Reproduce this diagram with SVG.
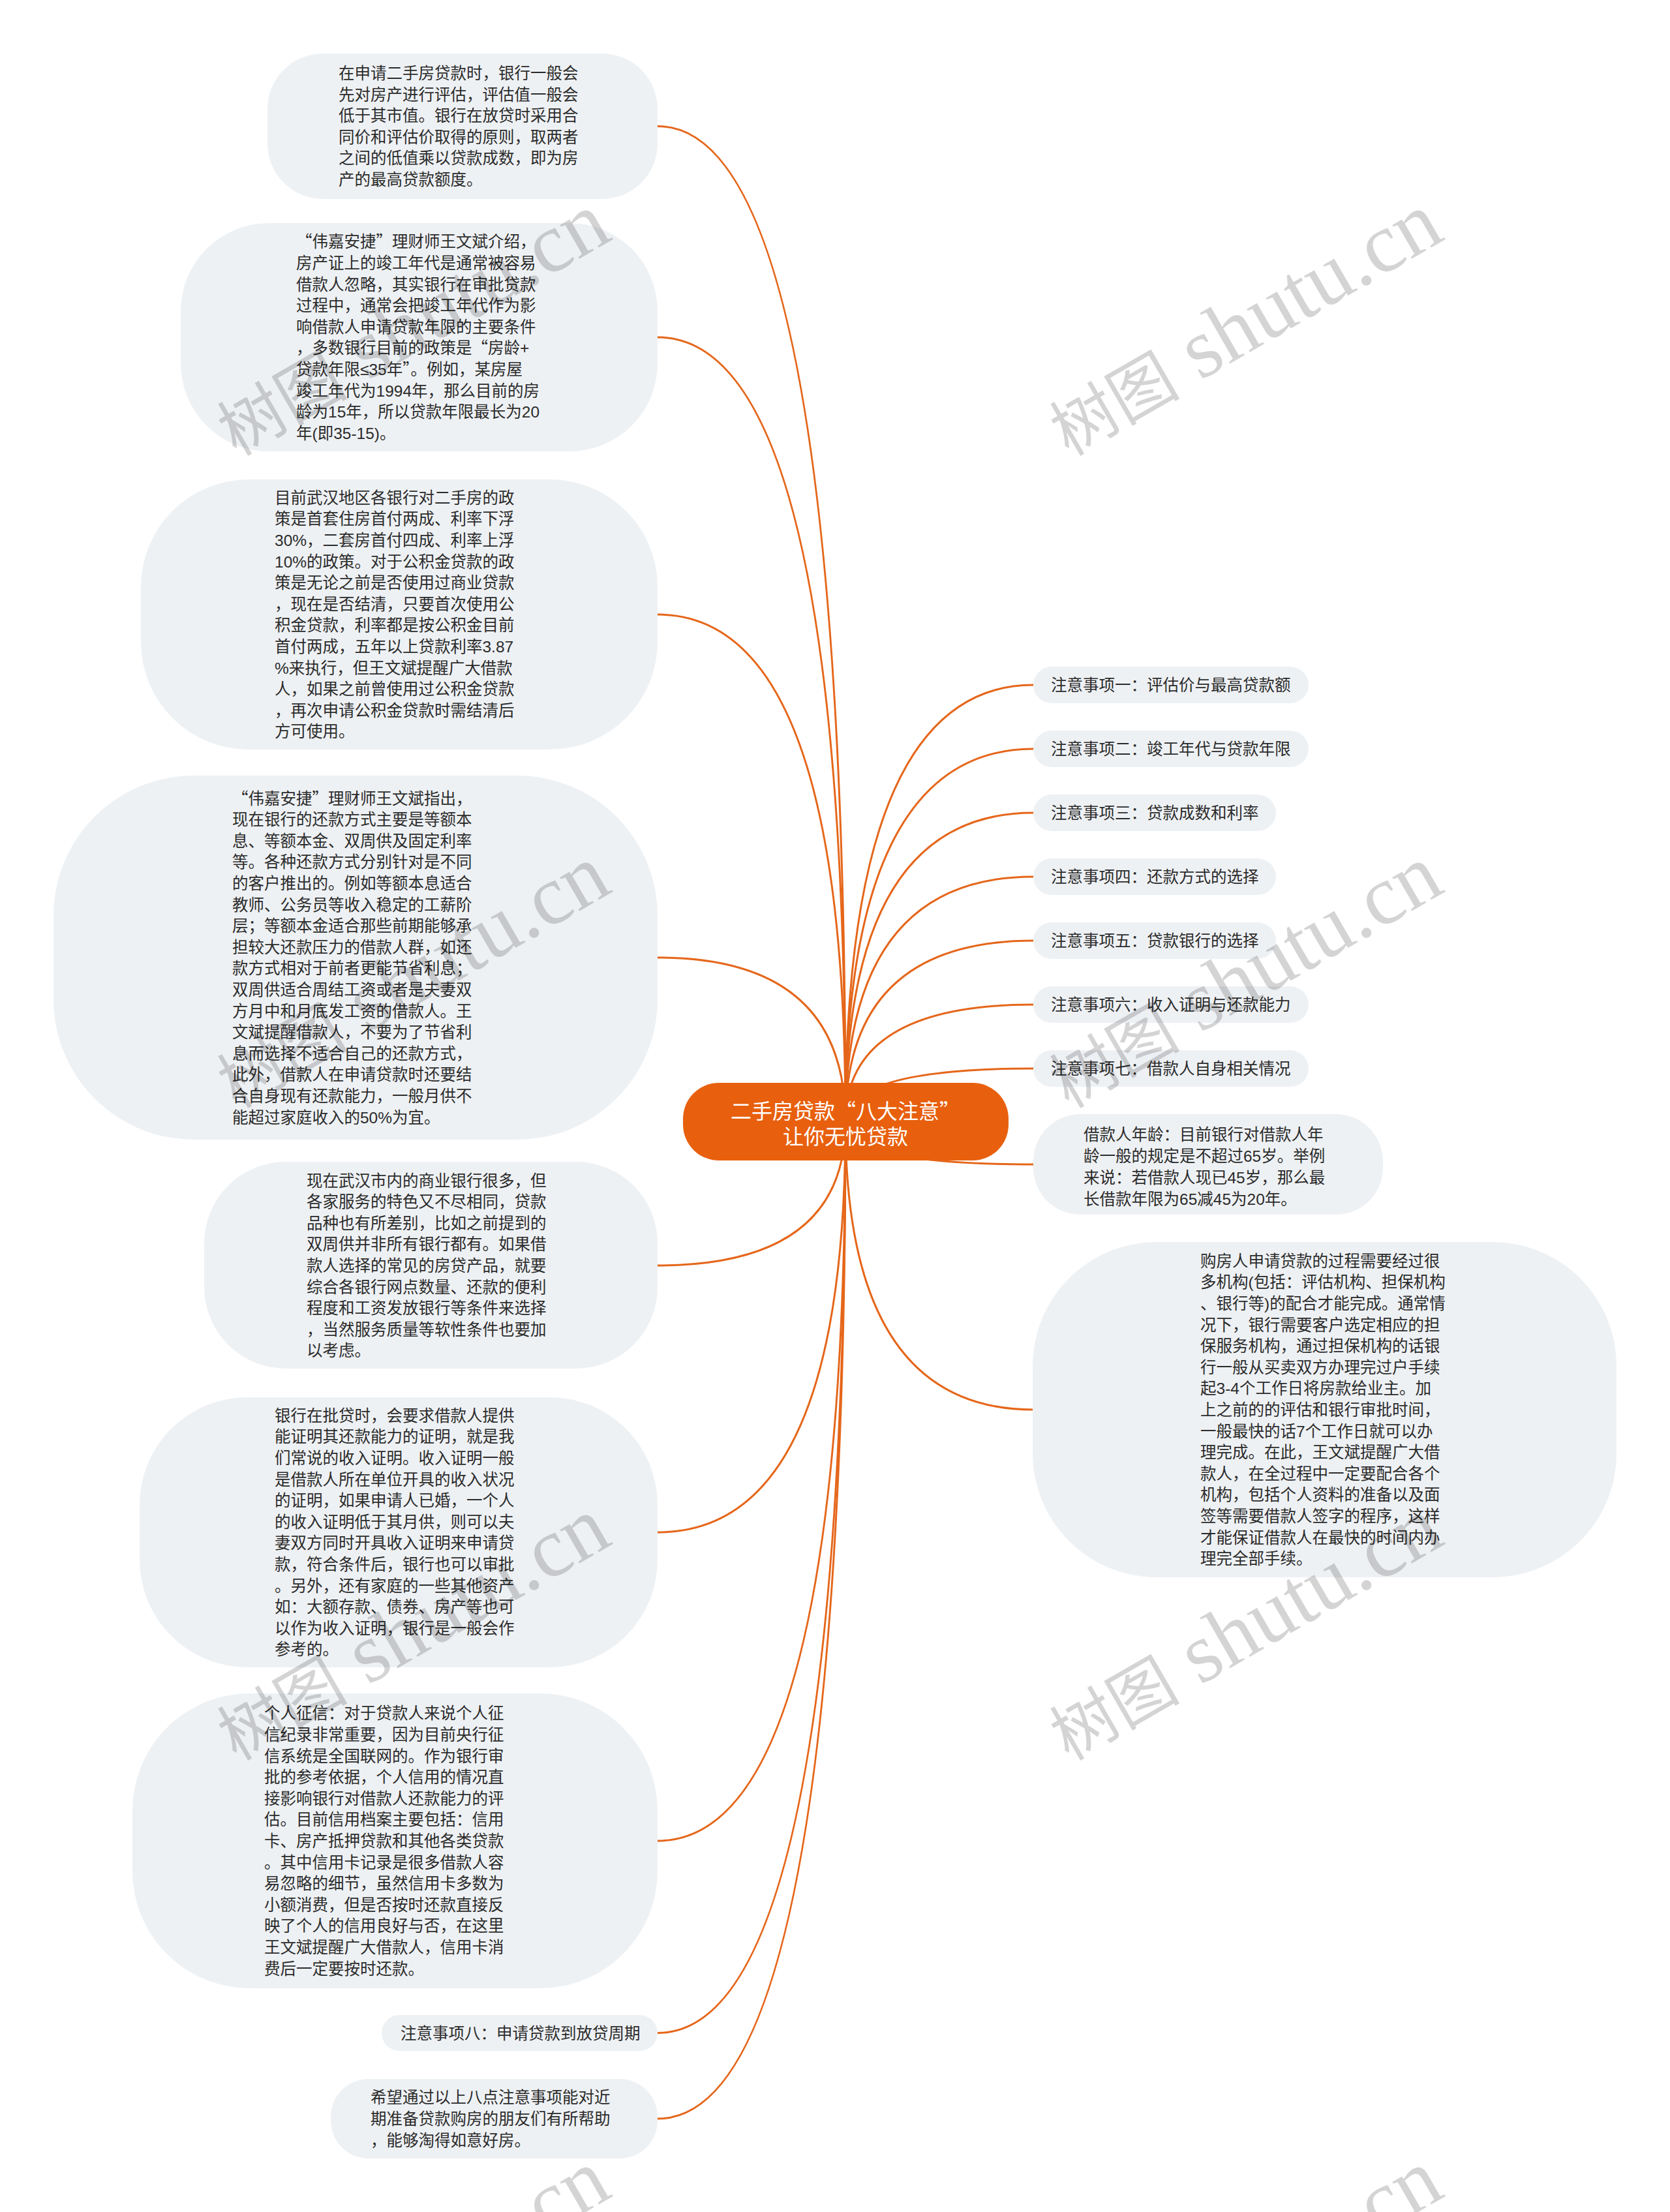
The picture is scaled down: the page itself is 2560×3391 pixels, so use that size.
<svg xmlns="http://www.w3.org/2000/svg" width="2560" height="3391" viewBox="0 0 2560 3391">
<style>
.bg{fill:#ffffff}
.nd{fill:#EEF1F4}
.t{font-family:"Liberation Sans","Noto Sans CJK SC",sans-serif;font-size:24.5px;fill:#2b2b2b}
.ct{font-family:"Liberation Sans","Noto Sans CJK SC",sans-serif;font-size:32px;fill:#ffffff;text-anchor:middle}
.q{font-family:"Noto Sans CJK SC","Noto Sans CJK JP",sans-serif}
.cn{fill:#E8600E}
.lk path{fill:none;stroke:#E5661A;stroke-width:3}
.wm{font-family:"Liberation Serif","Noto Sans CJK SC",serif;font-size:130px;fill:#000000;fill-opacity:0.17;text-anchor:middle}
.wm .k{font-size:100px}
</style>
<rect class="bg" x="0" y="0" width="2560" height="3391"/>
<g id="connectors" class="lk">
<path d="M1296 1720 Q1296 193.5 1008 193.5"/>
<path d="M1296 1720 Q1296 517 1008 517"/>
<path d="M1296 1720 Q1296 942 1008 942"/>
<path d="M1296 1720 Q1296 1468 1008 1468"/>
<path d="M1296 1720 Q1296 1940 1008 1940"/>
<path d="M1296 1720 Q1296 2349 1008 2349"/>
<path d="M1296 1720 Q1296 2822 1008 2822"/>
<path d="M1296 1720 Q1296 3116.5 1008 3116.5"/>
<path d="M1296 1720 Q1296 3248 1008 3248"/>
<path d="M1296 1720 Q1296 1050 1584 1050"/>
<path d="M1296 1720 Q1296 1148 1584 1148"/>
<path d="M1296 1720 Q1296 1246 1584 1246"/>
<path d="M1296 1720 Q1296 1344 1584 1344"/>
<path d="M1296 1720 Q1296 1442 1584 1442"/>
<path d="M1296 1720 Q1296 1540 1584 1540"/>
<path d="M1296 1720 Q1296 1638 1584 1638"/>
<path d="M1296 1720 Q1296 1785 1584 1785"/>
<path d="M1296 1720 Q1296 2161 1584 2161"/>
</g>
<g id="center">
<rect class="cn" x="1047" y="1660" width="499" height="119" rx="55" ry="55"/>
<text class="ct" x="1296" y="1715">二手房贷款<tspan class="q">“</tspan>八大注意<tspan class="q">”</tspan></text>
<text class="ct" x="1296" y="1754">让你无忧贷款</text>
</g>
<g id="L1">
<rect class="nd" x="410" y="82" width="598" height="223" rx="85" ry="85"/>
<text class="t" x="519" y="121"><tspan x="519">在申请二手房贷款时，银行一般会</tspan><tspan x="519" dy="32.6">先对房产进行评估，评估值一般会</tspan><tspan x="519" dy="32.6">低于其市值。银行在放贷时采用合</tspan><tspan x="519" dy="32.6">同价和评估价取得的原则，取两者</tspan><tspan x="519" dy="32.6">之间的低值乘以贷款成数，即为房</tspan><tspan x="519" dy="32.6">产的最高贷款额度。</tspan></text>
</g>
<g id="L2">
<rect class="nd" x="277" y="342" width="731" height="350" rx="135" ry="135"/>
<text class="t" x="454" y="379.3"><tspan x="454"><tspan class="q">“</tspan>伟嘉安捷<tspan class="q">”</tspan>理财师王文斌介绍，</tspan><tspan x="454" dy="32.6">房产证上的竣工年代是通常被容易</tspan><tspan x="454" dy="32.6">借款人忽略，其实银行在审批贷款</tspan><tspan x="454" dy="32.6">过程中，通常会把竣工年代作为影</tspan><tspan x="454" dy="32.6">响借款人申请贷款年限的主要条件</tspan><tspan x="454" dy="32.6">，多数银行目前的政策是<tspan class="q">“</tspan>房龄+</tspan><tspan x="454" dy="32.6">贷款年限≤35年<tspan class="q">”</tspan>。例如，某房屋</tspan><tspan x="454" dy="32.6">竣工年代为1994年，那么目前的房</tspan><tspan x="454" dy="32.6">龄为15年，所以贷款年限最长为20</tspan><tspan x="454" dy="32.6">年(即35-15)。</tspan></text>
</g>
<g id="L3">
<rect class="nd" x="216" y="735" width="792" height="414" rx="165" ry="165"/>
<text class="t" x="421" y="771.7"><tspan x="421">目前武汉地区各银行对二手房的政</tspan><tspan x="421" dy="32.6">策是首套住房首付两成、利率下浮</tspan><tspan x="421" dy="32.6">30%，二套房首付四成、利率上浮</tspan><tspan x="421" dy="32.6">10%的政策。对于公积金贷款的政</tspan><tspan x="421" dy="32.6">策是无论之前是否使用过商业贷款</tspan><tspan x="421" dy="32.6">，现在是否结清，只要首次使用公</tspan><tspan x="421" dy="32.6">积金贷款，利率都是按公积金目前</tspan><tspan x="421" dy="32.6">首付两成，五年以上贷款利率3.87</tspan><tspan x="421" dy="32.6">%来执行，但王文斌提醒广大借款</tspan><tspan x="421" dy="32.6">人，如果之前曾使用过公积金贷款</tspan><tspan x="421" dy="32.6">，再次申请公积金贷款时需结清后</tspan><tspan x="421" dy="32.6">方可使用。</tspan></text>
</g>
<g id="L4">
<rect class="nd" x="82" y="1189" width="926" height="558" rx="215" ry="215"/>
<text class="t" x="356" y="1232.5"><tspan x="356"><tspan class="q">“</tspan>伟嘉安捷<tspan class="q">”</tspan>理财师王文斌指出，</tspan><tspan x="356" dy="32.6">现在银行的还款方式主要是等额本</tspan><tspan x="356" dy="32.6">息、等额本金、双周供及固定利率</tspan><tspan x="356" dy="32.6">等。各种还款方式分别针对是不同</tspan><tspan x="356" dy="32.6">的客户推出的。例如等额本息适合</tspan><tspan x="356" dy="32.6">教师、公务员等收入稳定的工薪阶</tspan><tspan x="356" dy="32.6">层；等额本金适合那些前期能够承</tspan><tspan x="356" dy="32.6">担较大还款压力的借款人群，如还</tspan><tspan x="356" dy="32.6">款方式相对于前者更能节省利息；</tspan><tspan x="356" dy="32.6">双周供适合周结工资或者是夫妻双</tspan><tspan x="356" dy="32.6">方月中和月底发工资的借款人。王</tspan><tspan x="356" dy="32.6">文斌提醒借款人，不要为了节省利</tspan><tspan x="356" dy="32.6">息而选择不适合自己的还款方式，</tspan><tspan x="356" dy="32.6">此外，借款人在申请贷款时还要结</tspan><tspan x="356" dy="32.6">合自身现有还款能力，一般月供不</tspan><tspan x="356" dy="32.6">能超过家庭收入的50%为宜。</tspan></text>
</g>
<g id="L5">
<rect class="nd" x="313" y="1781" width="695" height="317" rx="125" ry="125"/>
<text class="t" x="470" y="1818.6"><tspan x="470">现在武汉市内的商业银行很多，但</tspan><tspan x="470" dy="32.6">各家服务的特色又不尽相同，贷款</tspan><tspan x="470" dy="32.6">品种也有所差别，比如之前提到的</tspan><tspan x="470" dy="32.6">双周供并非所有银行都有。如果借</tspan><tspan x="470" dy="32.6">款人选择的常见的房贷产品，就要</tspan><tspan x="470" dy="32.6">综合各银行网点数量、还款的便利</tspan><tspan x="470" dy="32.6">程度和工资发放银行等条件来选择</tspan><tspan x="470" dy="32.6">，当然服务质量等软性条件也要加</tspan><tspan x="470" dy="32.6">以考虑。</tspan></text>
</g>
<g id="L6">
<rect class="nd" x="214" y="2142" width="794" height="414" rx="165" ry="165"/>
<text class="t" x="421" y="2178.7"><tspan x="421">银行在批贷时，会要求借款人提供</tspan><tspan x="421" dy="32.6">能证明其还款能力的证明，就是我</tspan><tspan x="421" dy="32.6">们常说的收入证明。收入证明一般</tspan><tspan x="421" dy="32.6">是借款人所在单位开具的收入状况</tspan><tspan x="421" dy="32.6">的证明，如果申请人已婚，一个人</tspan><tspan x="421" dy="32.6">的收入证明低于其月供，则可以夫</tspan><tspan x="421" dy="32.6">妻双方同时开具收入证明来申请贷</tspan><tspan x="421" dy="32.6">款，符合条件后，银行也可以审批</tspan><tspan x="421" dy="32.6">。另外，还有家庭的一些其他资产</tspan><tspan x="421" dy="32.6">如：大额存款、债券、房产等也可</tspan><tspan x="421" dy="32.6">以作为收入证明，银行是一般会作</tspan><tspan x="421" dy="32.6">参考的。</tspan></text>
</g>
<g id="L7">
<rect class="nd" x="203" y="2596" width="805" height="452" rx="180" ry="180"/>
<text class="t" x="405" y="2635.4"><tspan x="405">个人征信：对于贷款人来说个人征</tspan><tspan x="405" dy="32.6">信纪录非常重要，因为目前央行征</tspan><tspan x="405" dy="32.6">信系统是全国联网的。作为银行审</tspan><tspan x="405" dy="32.6">批的参考依据，个人信用的情况直</tspan><tspan x="405" dy="32.6">接影响银行对借款人还款能力的评</tspan><tspan x="405" dy="32.6">估。目前信用档案主要包括：信用</tspan><tspan x="405" dy="32.6">卡、房产抵押贷款和其他各类贷款</tspan><tspan x="405" dy="32.6">。其中信用卡记录是很多借款人容</tspan><tspan x="405" dy="32.6">易忽略的细节，虽然信用卡多数为</tspan><tspan x="405" dy="32.6">小额消费，但是否按时还款直接反</tspan><tspan x="405" dy="32.6">映了个人的信用良好与否，在这里</tspan><tspan x="405" dy="32.6">王文斌提醒广大借款人，信用卡消</tspan><tspan x="405" dy="32.6">费后一定要按时还款。</tspan></text>
</g>
<g id="L8">
<rect class="nd" x="585" y="3089" width="423" height="55" rx="27.5" ry="27.5"/>
<text class="t" x="614" y="3125.5">注意事项八：申请贷款到放贷周期</text>
</g>
<g id="L9">
<rect class="nd" x="507" y="3187" width="501" height="122" rx="58" ry="58"/>
<text class="t" x="568" y="3224.4"><tspan x="568">希望通过以上八点注意事项能对近</tspan><tspan x="568" dy="32.6">期准备贷款购房的朋友们有所帮助</tspan><tspan x="568" dy="32.6">，能够淘得如意好房。</tspan></text>
</g>
<g id="R1">
<rect class="nd" x="1584" y="1022" width="422" height="56" rx="28" ry="28"/>
<text class="t" x="1611" y="1059">注意事项一：评估价与最高贷款额</text>
</g>
<g id="R2">
<rect class="nd" x="1584" y="1120" width="422" height="56" rx="28" ry="28"/>
<text class="t" x="1611" y="1157">注意事项二：竣工年代与贷款年限</text>
</g>
<g id="R3">
<rect class="nd" x="1584" y="1218" width="372" height="56" rx="28" ry="28"/>
<text class="t" x="1611" y="1255">注意事项三：贷款成数和利率</text>
</g>
<g id="R4">
<rect class="nd" x="1584" y="1316" width="372" height="56" rx="28" ry="28"/>
<text class="t" x="1611" y="1353">注意事项四：还款方式的选择</text>
</g>
<g id="R5">
<rect class="nd" x="1584" y="1414" width="372" height="56" rx="28" ry="28"/>
<text class="t" x="1611" y="1451">注意事项五：贷款银行的选择</text>
</g>
<g id="R6">
<rect class="nd" x="1584" y="1512" width="422" height="56" rx="28" ry="28"/>
<text class="t" x="1611" y="1549">注意事项六：收入证明与还款能力</text>
</g>
<g id="R7">
<rect class="nd" x="1584" y="1610" width="422" height="56" rx="28" ry="28"/>
<text class="t" x="1611" y="1647">注意事项七：借款人自身相关情况</text>
</g>
<g id="R8">
<rect class="nd" x="1584" y="1708" width="536" height="154" rx="72" ry="72"/>
<text class="t" x="1661" y="1748"><tspan x="1661">借款人年龄：目前银行对借款人年</tspan><tspan x="1661" dy="33">龄一般的规定是不超过65岁。举例</tspan><tspan x="1661" dy="33">来说：若借款人现已45岁，那么最</tspan><tspan x="1661" dy="33">长借款年限为65减45为20年。</tspan></text>
</g>
<g id="R9">
<rect class="nd" x="1583" y="1904" width="895" height="514" rx="190" ry="190"/>
<text class="t" x="1840" y="1941.8"><tspan x="1840">购房人申请贷款的过程需要经过很</tspan><tspan x="1840" dy="32.6">多机构(包括：评估机构、担保机构</tspan><tspan x="1840" dy="32.6">、银行等)的配合才能完成。通常情</tspan><tspan x="1840" dy="32.6">况下，银行需要客户选定相应的担</tspan><tspan x="1840" dy="32.6">保服务机构，通过担保机构的话银</tspan><tspan x="1840" dy="32.6">行一般从买卖双方办理完过户手续</tspan><tspan x="1840" dy="32.6">起3-4个工作日将房款给业主。加</tspan><tspan x="1840" dy="32.6">上之前的的评估和银行审批时间，</tspan><tspan x="1840" dy="32.6">一般最快的话7个工作日就可以办</tspan><tspan x="1840" dy="32.6">理完成。在此，王文斌提醒广大借</tspan><tspan x="1840" dy="32.6">款人，在全过程中一定要配合各个</tspan><tspan x="1840" dy="32.6">机构，包括个人资料的准备以及面</tspan><tspan x="1840" dy="32.6">签等需要借款人签字的程序，这样</tspan><tspan x="1840" dy="32.6">才能保证借款人在最快的时间内办</tspan><tspan x="1840" dy="32.6">理完全部手续。</tspan></text>
</g>
<g id="watermarks">
<text class="wm" x="652" y="533" transform="rotate(-30 652 533)"><tspan class="k">树图</tspan> shutu.cn</text>
<text class="wm" x="1928" y="533" transform="rotate(-30 1928 533)"><tspan class="k">树图</tspan> shutu.cn</text>
<text class="wm" x="652" y="1533" transform="rotate(-30 652 1533)"><tspan class="k">树图</tspan> shutu.cn</text>
<text class="wm" x="1928" y="1533" transform="rotate(-30 1928 1533)"><tspan class="k">树图</tspan> shutu.cn</text>
<text class="wm" x="652" y="2533" transform="rotate(-30 652 2533)"><tspan class="k">树图</tspan> shutu.cn</text>
<text class="wm" x="1928" y="2533" transform="rotate(-30 1928 2533)"><tspan class="k">树图</tspan> shutu.cn</text>
<text class="wm" x="652" y="3533" transform="rotate(-30 652 3533)"><tspan class="k">树图</tspan> shutu.cn</text>
<text class="wm" x="1928" y="3533" transform="rotate(-30 1928 3533)"><tspan class="k">树图</tspan> shutu.cn</text>
</g>
</svg>
